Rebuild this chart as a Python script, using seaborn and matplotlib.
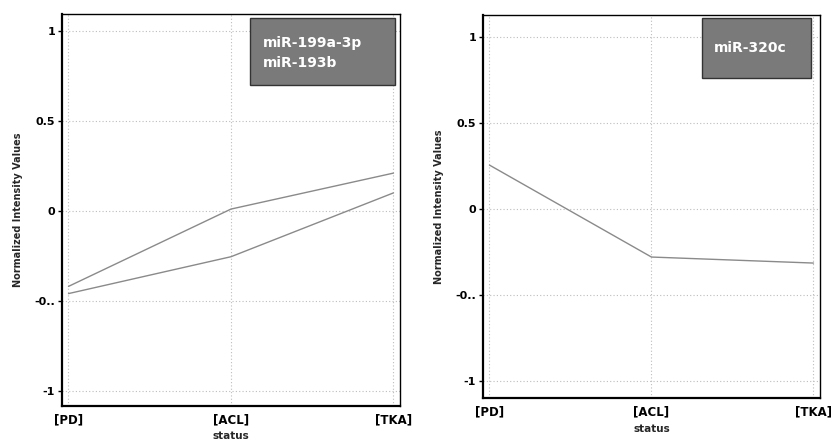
import numpy as np
import pandas as pd
import seaborn as sns
import matplotlib.pyplot as plt
from matplotlib.patches import Rectangle

# data
status = ["[PD]", "[ACL]", "[TKA]"]
mir_199a_3p = [-0.42, 0.01, 0.21]
mir_193b = [-0.46, -0.255, 0.10]
mir_320c = [0.255, -0.28, -0.315]
y_ticks = [-1, -0.5, 0, 0.5, 1]
y_ticklabels = ["-1", "-0..", "0", "0.5", "1"]

sns.set_theme(style="white")
plt.rcParams["font.family"] = ["DejaVu Sans"]

fig = plt.figure(figsize=(8.31, 4.44), dpi=100)
ax1 = fig.add_axes([0.0746, 0.0856, 0.4067, 0.883])
ax2 = fig.add_axes([0.5812, 0.1036, 0.4055, 0.8626])

df_left = pd.DataFrame({
    "status": status * 2,
    "value": mir_199a_3p + mir_193b,
    "gene": ["miR-199a-3p"] * 3 + ["miR-193b"] * 3,
})
df_right = pd.DataFrame({"status": status, "value": mir_320c, "gene": ["miR-320c"] * 3})


def draw(ax, df, ylim):
    sns.lineplot(data=df, x="status", y="value", units="gene", estimator=None,
                 color="#8a8a8a", linewidth=1.0, ax=ax, legend=False)
    ax.set_xlim(-0.04, 2.04)
    ax.set_ylim(*ylim)
    ax.set_yticks(y_ticks)
    ax.set_yticklabels(y_ticklabels, fontsize=8, fontweight="bold")
    ax.set_xticks(range(len(status)))
    ax.set_xticklabels(status, fontsize=8.5, fontweight="bold")
    ax.tick_params(axis="x", length=2, pad=3, colors="black")
    ax.tick_params(axis="y", length=3, width=1, pad=2, left=True, colors="black")
    ax.grid(True, linestyle=(0, (1, 2)), color="#bdbdbd", linewidth=0.8)
    for s in ax.spines.values():
        s.set_color("black")
        s.set_linewidth(1.0)
    ax.spines["left"].set_linewidth(1.6)
    ax.spines["bottom"].set_linewidth(1.6)
    ax.set_xlabel("status", fontsize=7.5, fontweight="bold", labelpad=4)
    ax.set_ylabel("Normalized Intensity Values", fontsize=7, fontweight="bold", labelpad=8)


def label_box(ax, x0, y0, x1, y1, text, tx, ty):
    ax.add_patch(Rectangle((x0, y0), x1 - x0, y1 - y0, transform=ax.transAxes,
                           facecolor="#7a7a7a", edgecolor="#333333", linewidth=1.0,
                           zorder=5, clip_on=False))
    ax.text(tx, ty, text, transform=ax.transAxes, ha="left", va="center",
            fontsize=10, fontweight="bold", color="white", linespacing=1.5, zorder=6)


draw(ax1, df_left, (-1.085, 1.095))
draw(ax2, df_right, (-1.10, 1.128))
label_box(ax1, 0.556, 0.819, 0.985, 0.990, "miR-199a-3p\nmiR-193b", 0.595, 0.9)
label_box(ax2, 0.650, 0.836, 0.973, 0.992, "miR-320c", 0.685, 0.914)

fig.savefig("out.png", dpi=100)
